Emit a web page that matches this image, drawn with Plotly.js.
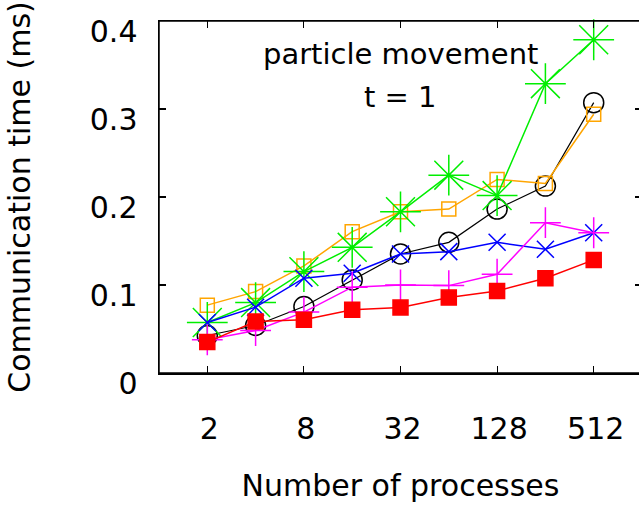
<!DOCTYPE html>
<html>
<head>
<meta charset="utf-8">
<script src="https://cdn.plot.ly/plotly-3.0.1.min.js"></script>
<style>
html,body{margin:0;padding:0;overflow:hidden;background:#fff;}
#chart{width:645px;height:509px;}
</style>
</head>
<body>
<div id="chart"></div>
<script>
var processes = [2, 4, 8, 16, 32, 64, 128, 256, 512];
var xTickVals = [2, 8, 32, 128, 512];
var xTickText = ['2', '8', '32', '128', '512'];
var yTickVals = [0, 0.1, 0.2, 0.3, 0.4];
var yTickText = ['0', '0.1', '0.2', '0.3', '0.4'];

var blackCircle = [0.0426, 0.054, 0.0755, 0.1058, 0.1353, 0.1485, 0.1863, 0.2124, 0.3072];
var orangeSquare = [0.0771, 0.0925, 0.1217, 0.1606, 0.1832, 0.1863, 0.220, 0.2154, 0.294];
var greenStar = [0.0574, 0.080, 0.1152, 0.1428, 0.1832, 0.2248, 0.2016, 0.3288, 0.3787];
var blueCross = [0.0574, 0.0748, 0.1077, 0.1134, 0.1353, 0.1379, 0.1485, 0.1406, 0.1594];
var magentaPlus = [0.0378, 0.0483, 0.0692, 0.0975, 0.1001, 0.0993, 0.1122, 0.1708, 0.1594];
var redSquare = [0.0351, 0.0585, 0.0604, 0.0718, 0.0744, 0.0857, 0.0933, 0.1077, 0.1285];

function series(y, color, symbol, size, lw) {
  return {
    x: processes, y: y, type: 'scatter', mode: 'lines+markers',
    line: {color: color, width: lw},
    marker: {symbol: symbol, size: size, color: color,
             line: {color: color, width: 1.5}},
    showlegend: false, cliponaxis: false
  };
}

var data = [
  series(blackCircle, '#000000', 'circle-open', 20, 1.2),
  series(orangeSquare, '#ffa500', 'square-open', 14, 1.5),
  series(greenStar, '#00ee00', 'asterisk-open', 34, 1.5),
  series(blueCross, '#0000ff', 'x-thin-open', 17, 1.5),
  series(magentaPlus, '#ff00ff', 'cross-thin-open', 22, 1.5),
  series(redSquare, '#ff0000', 'square', 15, 1.5)
];

var fam = 'DejaVu Sans, Liberation Sans, Arial, sans-serif';

var layout = {
  width: 645, height: 509,
  margin: {l: 159, r: 3, t: 21, b: 136},
  paper_bgcolor: '#fff', plot_bgcolor: '#fff',
  font: {family: fam, color: '#000', size: 30},
  xaxis: {
    type: 'log', range: [0, Math.log10(1024)],
    tickvals: xTickVals, ticktext: xTickText,
    ticks: 'inside', ticklen: 7, tickwidth: 1.2, tickcolor: '#000',
    showline: true, linewidth: 1.5, linecolor: '#000', mirror: 'ticks',
    showgrid: false, zeroline: false,
    tickfont: {family: fam, size: 30, color: '#000'},
    ticklabelstandoff: 28, ticklabelshift: 2, ticklabeloverflow: 'allow',
    title: {text: 'Number of processes', font: {family: fam, size: 30, color: '#000'}, standoff: 30}
  },
  yaxis: {
    range: [0, 0.4],
    tickvals: yTickVals, ticktext: yTickText,
    ticks: 'inside', ticklen: 7, tickwidth: 1.2, tickcolor: '#000',
    showline: true, linewidth: 1.5, linecolor: '#000', mirror: 'ticks',
    showgrid: false, zeroline: false,
    tickfont: {family: fam, size: 30, color: '#000'},
    ticklabelstandoff: 14, ticklabelshift: 10, ticklabeloverflow: 'allow',
    title: {text: 'Communication time (ms)', font: {family: fam, size: 30, color: '#000'}, standoff: 50}
  },
  shapes: [
    {type: 'rect', xref: 'paper', yref: 'paper', x0: 0, x1: 1, y0: 0, y1: 1,
     line: {color: '#000', width: 1.5}, fillcolor: 'rgba(0,0,0,0)', layer: 'above'}
  ],
  annotations: [
    {text: 'particle movement', xref: 'paper', yref: 'paper', x: 0.5, y: 0.905,
     xanchor: 'center', yanchor: 'middle', showarrow: false,
     font: {family: fam, size: 29, color: '#000'}},
    {text: 't = 1', xref: 'paper', yref: 'paper', x: 0.5, y: 0.783,
     xanchor: 'center', yanchor: 'middle', showarrow: false,
     font: {family: fam, size: 29, color: '#000'}}
  ]
};

Plotly.newPlot('chart', data, layout, {displayModeBar: false, staticPlot: true});
</script>
</body>
</html>
